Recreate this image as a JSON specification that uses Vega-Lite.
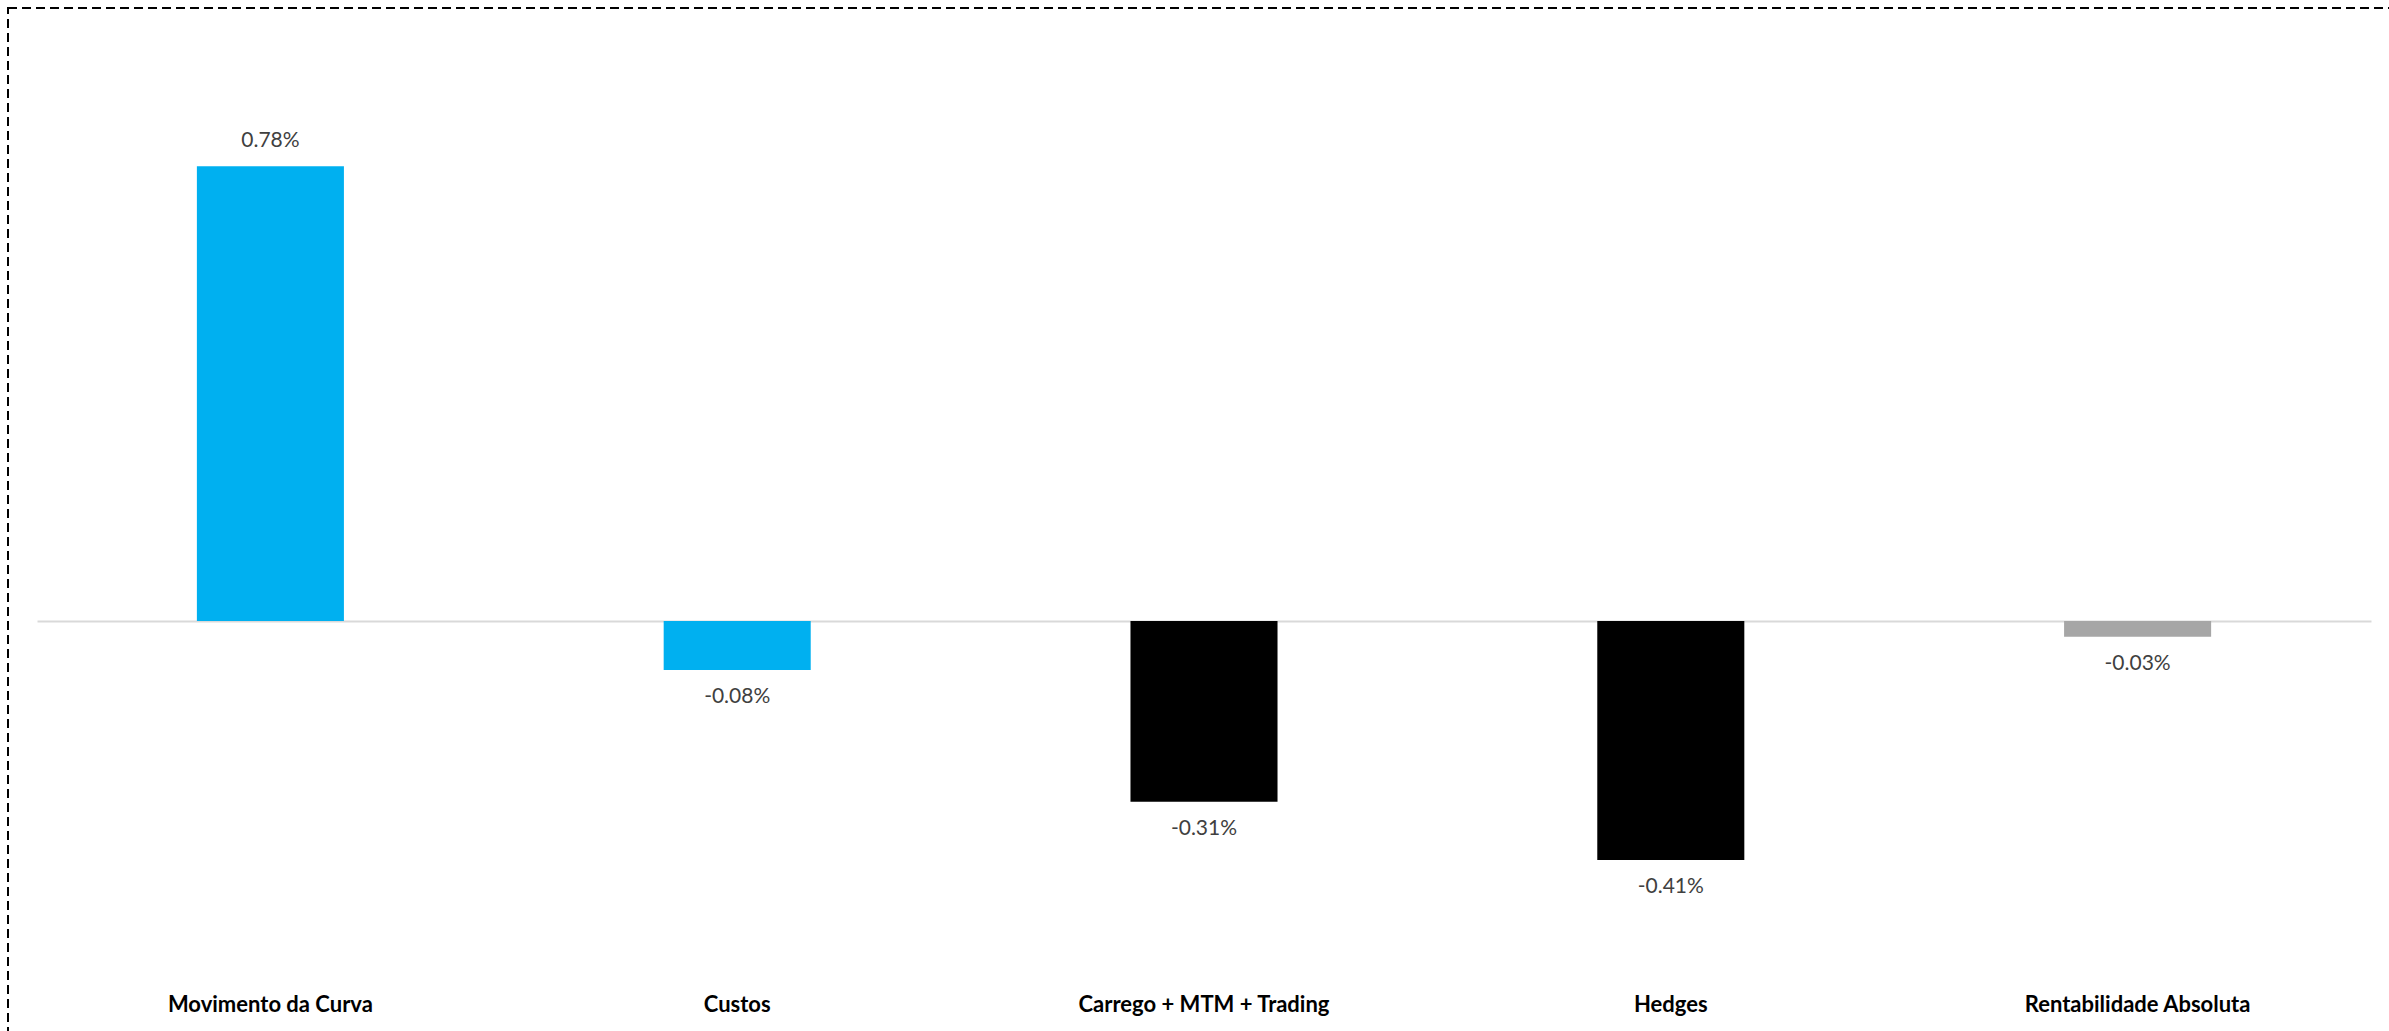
{
  "$schema": "https://vega.github.io/schema/vega-lite/v6.json",
  "autosize": {"type": "none"},
  "padding": {"left": 8, "top": 8, "right": 0, "bottom": 0},
  "width": 2400,
  "height": 1040,
  "background": "white",
  "config": {
    "view": {"stroke": "#000000", "strokeWidth": 2, "strokeDash": [9, 5]},
    "font": "Lato",
    "locale": {
      "number": {"decimal": ".", "thousands": ",", "grouping": [3], "currency": ["$", ""], "minus": "-"}
    }
  },
  "data": {
    "values": [
      {"cat": "Movimento da Curva", "v": 0.0078, "grp": "blue"},
      {"cat": "Custos", "v": -0.00084, "grp": "blue"},
      {"cat": "Carrego + MTM + Trading", "v": -0.0031, "grp": "black"},
      {"cat": "Hedges", "v": -0.0041, "grp": "black"},
      {"cat": "Rentabilidade Absoluta", "v": -0.00027, "grp": "grey"}
    ]
  },
  "encoding": {
    "x": {
      "field": "cat", "type": "nominal", "sort": null,
      "scale": {"range": [29, 2363], "paddingInner": 0.685, "paddingOuter": 0.3425}
    },
    "y": {
      "field": "v", "type": "quantitative",
      "scale": {"domain": [-0.01, 0.01], "range": [1196, 30], "nice": false, "zero": false},
      "axis": null
    }
  },
  "layer": [
    {
      "mark": {"type": "bar", "clip": false},
      "encoding": {
        "x": {
          "field": "cat", "type": "nominal", "sort": null,
          "axis": {
            "orient": "bottom", "title": null, "offset": -60, "domain": false, "ticks": false,
            "labelAngle": 0, "labelPadding": 16, "labelBaseline": "middle",
            "labelFontSize": 22, "labelFontWeight": "bold", "labelColor": "#000000",
            "labelFont": "Lato", "labelLimit": 0
          }
        },
        "y2": {"datum": 0},
        "color": {
          "field": "grp", "type": "nominal",
          "scale": {"domain": ["blue", "black", "grey"], "range": ["#00B0F0", "#000000", "#A6A6A6"]},
          "legend": null
        }
      }
    },
    {
      "transform": [{"filter": "datum.v >= 0"}],
      "mark": {"type": "text", "baseline": "middle", "dy": -25, "fontSize": 21, "color": "#404040"},
      "encoding": {
        "x": {
          "field": "cat", "type": "nominal", "sort": null,
          "axis": {
            "orient": "top", "title": null, "offset": -613, "labels": false, "ticks": false,
            "domain": true, "domainColor": "#d9d9d9", "domainWidth": 2
          }
        },
        "text": {"field": "v", "type": "quantitative", "format": ".2%"}
      }
    },
    {
      "transform": [{"filter": "datum.v < 0"}],
      "mark": {"type": "text", "baseline": "middle", "dy": 27, "fontSize": 21, "color": "#404040"},
      "encoding": {
        "x": {"field": "cat", "type": "nominal", "sort": null, "axis": null},
        "text": {"field": "v", "type": "quantitative", "format": ".2%"}
      }
    }
  ],
  "resolve": {"axis": {"x": "independent"}}
}
